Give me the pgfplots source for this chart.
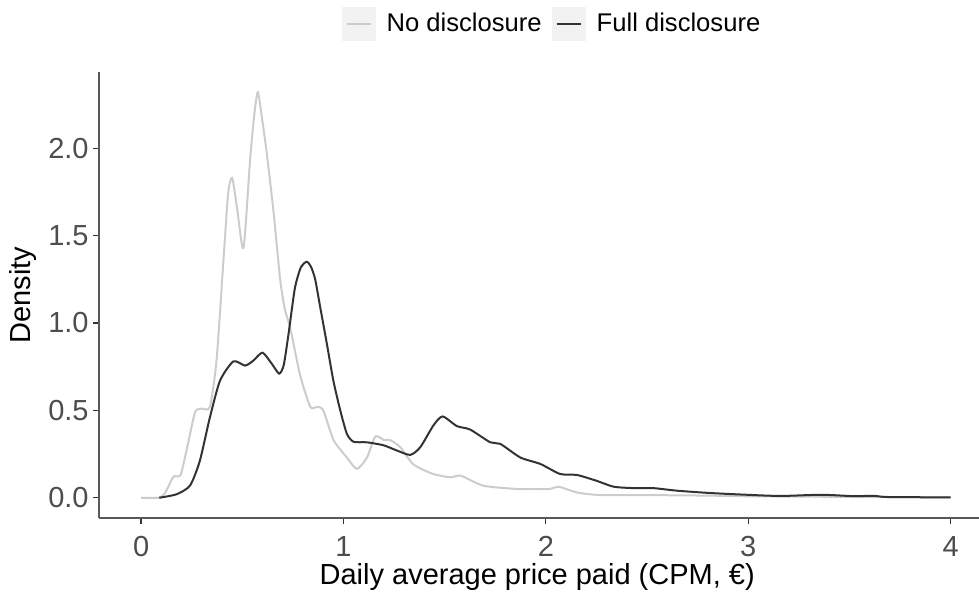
\documentclass[border=0pt]{standalone}
\usepackage{pgfplots}
\pgfplotsset{compat=1.18}
\usepackage{fontspec}
\setmainfont{Liberation Sans}
\definecolor{ticklab}{HTML}{4D4D4D}
\definecolor{nodisc}{HTML}{CCCCCC}
\definecolor{fulldisc}{HTML}{333333}
\definecolor{keybg}{HTML}{F2F2F2}
\begin{document}
\begin{tikzpicture}
\useasboundingbox (-49.5pt,-37pt) rectangle (440pt,259pt);
\begin{axis}[
  scale only axis,
  width=440pt, height=223pt,
  xmin=-0.208, xmax=4.14,
  ymin=-0.116, ymax=2.436,
  axis lines*=left,
  axis line style={black!65, line width=0.6pt, -},
  xtick={0,1,2,3,4},
  ytick={0,0.5,1,1.5,2},
  yticklabels={0.0,0.5,1.0,1.5,2.0},
  tick align=outside,
  major tick length=3pt,
  tick style={fulldisc, line width=0.6pt},
  /pgf/number format/assume math mode=true,
  ticklabel style={font=\fontsize{14.5}{17}\selectfont, text=ticklab},
  xticklabel style={anchor=base, inner sep=0pt, yshift=-16.3pt},
  yticklabel style={anchor=east, inner sep=0pt, xshift=-2pt},
  xlabel={Daily average price paid (CPM, €)},
  ylabel={Density},
  label style={font=\fontsize{14.5}{17}\selectfont},
  xlabel style={at={(axis description cs:0.498,-0.150)}, anchor=base},
  ylabel style={at={(axis description cs:-0.0864,0.5)}, anchor=center},
  legend columns=2,
  legend style={at={(axis description cs:0.5136,1.1076)}, anchor=center, draw=none, fill=none,
    font=\fontsize{12.8}{15}\selectfont,
    nodes={inner sep=0pt},
    /tikz/every odd column/.append style={column sep=5.5pt},
    /tikz/every even column/.append style={column sep=5pt}},
  legend image code/.code={\fill[keybg] (0pt,-8pt) rectangle (16pt,8pt); \draw[#1] (2pt,0pt) -- (14pt,0pt);},
]
\addplot[nodisc, line width=1pt, smooth, tension=0.4] table {
x y
0 0
0.09 0
0.12 0.03
0.16 0.12
0.195 0.13
0.23 0.3
0.267 0.49
0.3 0.51
0.34 0.52
0.373 0.79
0.407 1.36
0.43 1.74
0.45 1.83
0.475 1.65
0.506 1.43
0.539 1.94
0.56 2.2
0.577 2.32
0.60 2.15
0.621 1.97
0.654 1.64
0.687 1.25
0.71 1.08
0.737 0.97
0.786 0.70
0.836 0.52
0.87 0.52
0.90 0.50
0.951 0.33
1.017 0.23
1.066 0.165
1.116 0.23
1.157 0.35
1.2 0.33
1.23 0.33
1.28 0.29
1.346 0.19
1.445 0.135
1.53 0.117
1.58 0.126
1.69 0.069
1.857 0.05
1.94 0.05
2.02 0.05
2.063 0.063
2.154 0.03
2.27 0.015
2.5 0.015
2.8 0.012
3.0 0.008
3.3 0.006
3.6 0.004
4.0 0.002
};
\addlegendentry{No disclosure}
\addplot[fulldisc, line width=1pt, smooth, tension=0.4] table {
x y
0.09 0
0.176 0.02
0.242 0.07
0.29 0.21
0.34 0.46
0.39 0.67
0.456 0.78
0.514 0.756
0.555 0.785
0.60 0.83
0.646 0.766
0.682 0.71
0.705 0.76
0.73 0.95
0.76 1.20
0.79 1.32
0.819 1.35
0.84 1.32
0.86 1.25
0.885 1.09
0.918 0.88
0.95 0.67
0.984 0.50
1.017 0.365
1.05 0.32
1.116 0.317
1.198 0.30
1.264 0.27
1.33 0.245
1.38 0.29
1.445 0.415
1.49 0.465
1.56 0.41
1.626 0.39
1.725 0.317
1.775 0.308
1.874 0.23
1.973 0.193
2.07 0.136
2.154 0.13
2.25 0.097
2.335 0.063
2.434 0.055
2.53 0.055
2.65 0.04
2.81 0.027
2.99 0.017
3.16 0.01
3.36 0.017
3.52 0.009
3.62 0.011
3.69 0.004
4.0 0.002
};
\addlegendentry{Full disclosure}
\end{axis}
\end{tikzpicture}
\end{document}
